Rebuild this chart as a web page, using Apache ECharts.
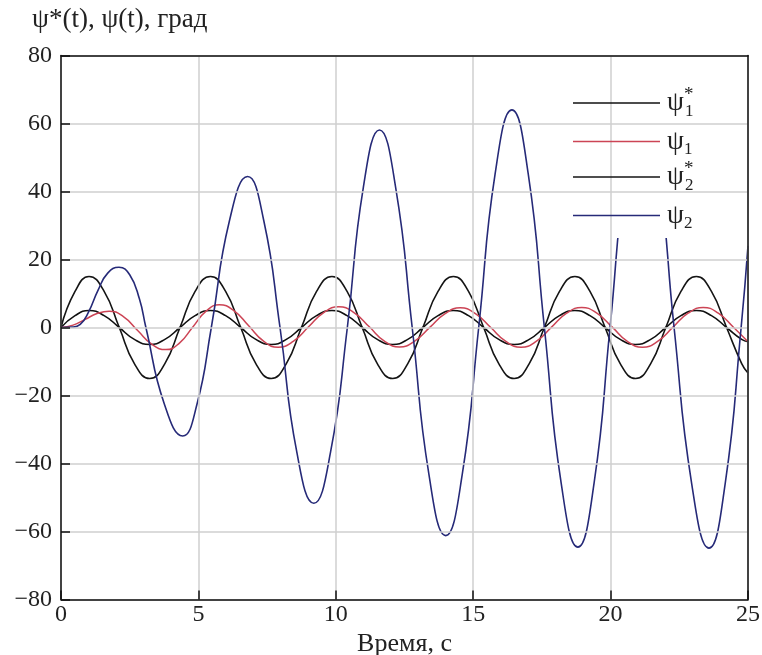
<!DOCTYPE html>
<html>
<head>
<meta charset="utf-8">
<script src="https://cdn.jsdelivr.net/npm/echarts@6/dist/echarts.min.js"></script>
<style>html,body{margin:0;padding:0;background:#fff}#c{width:762px;height:655px}</style>
</head>
<body>
<div id="c"></div>
<script>
// ---- data ----
const xTicks = [0, 5, 10, 15, 20, 25];
const yTicks = [-80, -60, -40, -20, 0, 20, 40, 60, 80];

// psi2* (black, amplitude ~15)
const tPsi2s = [0,0.51,1.02,1.57,2.12,2.67,3.23,3.78,4.33,4.88,5.44,5.99,6.54,7.09,7.65,8.2,8.75,9.3,9.86,10.41,10.96,11.51,12.07,12.62,13.17,13.72,14.28,14.83,15.38,15.93,16.49,17.04,17.59,18.14,18.7,19.25,19.8,20.35,20.91,21.46,22.01,22.56,23.12,23.67,24.22,24.77,25];
const psi2s  = [0,10.6,15,10.6,0,-10.6,-15,-10.6,0,10.6,15,10.6,0,-10.6,-15,-10.6,0,10.6,15,10.6,0,-10.6,-15,-10.6,0,10.6,15,10.6,0,-10.6,-15,-10.6,0,10.6,15,10.6,0,-10.6,-15,-10.6,0,10.6,15,10.6,0,-10.6,-13.4];

// psi1* (black, amplitude ~5)
const tPsi1s = [0,0.51,1.02,1.57,2.12,2.67,3.23,3.78,4.33,4.88,5.44,5.99,6.54,7.09,7.65,8.2,8.75,9.3,9.86,10.41,10.96,11.51,12.07,12.62,13.17,13.72,14.28,14.83,15.38,15.93,16.49,17.04,17.59,18.14,18.7,19.25,19.8,20.35,20.91,21.46,22.01,22.56,23.12,23.67,24.22,24.77,25];
const psi1s  = [0,3.5,5,3.5,0,-3.5,-5,-3.5,0,3.5,5,3.5,0,-3.5,-5,-3.5,0,3.5,5,3.5,0,-3.5,-5,-3.5,0,3.5,5,3.5,0,-3.5,-5,-3.5,0,3.5,5,3.5,0,-3.5,-5,-3.5,0,3.5,5,3.5,0,-3.5,-4.2];

// psi1 (red)
const tPsi1 = [0,0.44,0.88,1.31,1.75,2.27,2.79,3.3,3.82,4.31,4.79,5.28,5.76,6.3,6.83,7.37,7.9,8.45,9.01,9.56,10.11,10.66,11.22,11.77,12.32,12.87,13.43,13.98,14.53,15.08,15.64,16.19,16.74,17.29,17.85,18.4,18.95,19.5,20.06,20.61,21.16,21.71,22.27,22.82,23.37,23.92,24.48,25];
const psi1  = [0,0.7,2.4,4.1,4.8,3.2,-0.9,-4.9,-6.5,-4.6,0.1,4.8,6.7,4.9,0.5,-4.0,-5.8,-4.1,0.2,4.4,6.1,4.4,0.2,-4.0,-5.7,-4.0,0.1,4.1,5.8,4.1,0,-4.1,-5.8,-4.1,0.1,4.2,5.9,4.2,0.1,-4.1,-5.8,-4.1,0.1,4.2,5.9,4.2,0,-4.2];

// psi2 (navy)
const tPsi2 = [0,0.4,0.7,1.0,1.35,1.7,2.11,2.5,2.85,3.09,3.76,4.43,4.95,5.47,6.13,6.79,7.38,7.97,8.58,9.2,9.81,10.42,11.0,11.59,12.18,12.78,13.39,14.0,14.6,15.2,15.8,16.41,17.0,17.59,18.2,18.81,19.4,19.98,20.56,21.15,21.73,22.31,22.95,23.58,24.17,24.75,25];
const psi2  = [0,0.1,0.9,4.5,11,16,17.7,15.5,8.5,0,-22.5,-31.9,-22.5,0,31.4,44.4,31.4,0,-36.6,-51.7,-36.6,0,41.1,58.1,41.1,0,-43.3,-61.2,-43.3,0,45.3,64,45.3,0,-45.7,-64.6,-45.7,0,46.3,65.5,46.3,0,-45.9,-64.9,-45.9,0,24];

const seriesNames = ['ψ1*', 'ψ1', 'ψ2*', 'ψ2'];
const legendLabels = {
  'ψ1*': '{p|ψ}{sup|*}{sub|1}',
  'ψ1':  '{p|ψ}{sub|1}',
  'ψ2*': '{p|ψ}{sup|*}{sub|2}',
  'ψ2':  '{p|ψ}{sub|2}'
};
// --------------------------------------------

const FONT = 'Liberation Serif';
const zip = (t, v) => t.map((x, i) => [x, v[i]]);

const rich = {
  p:   { fontFamily: FONT, fontSize: 27, color: '#222', lineHeight: 34, verticalAlign: 'middle' },
  sub: { fontFamily: FONT, fontSize: 17, color: '#222', lineHeight: 17, verticalAlign: 'bottom' },
  sup: { fontFamily: FONT, fontSize: 19, color: '#222', lineHeight: 19, verticalAlign: 'top', width: 1 }
};

function mkLegend(name, top) {
  return {
    data: [name], left: 573, top: top, orient: 'vertical',
    icon: 'rect', itemWidth: 87, itemHeight: 1.5, itemGap: 0, padding: 0,
    selectedMode: false, z: 6,
    formatter: n => legendLabels[n],
    textStyle: { rich: rich, padding: [0, 0, 0, 2] }
  };
}

const chart = echarts.init(document.getElementById('c'), null, { renderer: 'canvas' });

const lineCommon = { type: 'line', showSymbol: false, smooth: true, z: 2, clip: true };
const frameLine = { show: true, onZero: false, lineStyle: { color: '#111', width: 1.5 } };

chart.setOption({
  animation: false,
  backgroundColor: '#fff',
  title: {
    text: 'ψ*(t), ψ(t), град', left: 27, top: 1,
    textStyle: { fontFamily: FONT, fontSize: 27, fontWeight: 'normal', color: '#222' }
  },
  grid: { left: 61, right: 14, top: 55.5, bottom: 55.5, containLabel: false, outerBoundsMode: 'none' },
  xAxis: [{
    type: 'value', min: 0, max: 25, interval: 5, z: 4, position: 'bottom',
    name: 'Время, с', nameLocation: 'middle', nameGap: 26,
    nameTextStyle: { fontFamily: FONT, fontSize: 26, color: '#222' },
    axisLine: frameLine,
    axisTick: { show: true, inside: true, length: 9, lineStyle: { color: '#111', width: 1.5 } },
    axisLabel: { fontFamily: FONT, fontSize: 24, color: '#222', margin: 3,
      formatter: v => xTicks.includes(v) ? String(v) : '' },
    splitLine: { show: true, lineStyle: { color: '#cfcfcf', width: 1.5 } }
  }, {
    type: 'value', min: 0, max: 25, interval: 5, z: 5, position: 'top',
    axisLine: frameLine, axisTick: { show: false }, axisLabel: { show: false }, splitLine: { show: false }
  }],
  yAxis: [{
    type: 'value', min: -80, max: 80, interval: 20, z: 4, position: 'left',
    axisLine: frameLine,
    axisTick: { show: true, inside: true, length: 9, lineStyle: { color: '#111', width: 1.5 } },
    axisLabel: { fontFamily: FONT, fontSize: 24, color: '#222', margin: 9,
      formatter: v => yTicks.includes(v) ? (v < 0 ? '\u2212' + Math.abs(v) : String(v)) : '' },
    splitLine: { show: true, lineStyle: { color: '#cfcfcf', width: 1.5 } }
  }, {
    type: 'value', min: -80, max: 80, interval: 20, z: 5, position: 'right',
    axisLine: frameLine, axisTick: { show: false }, axisLabel: { show: false }, splitLine: { show: false }
  }],
  graphic: [{
    type: 'rect', z: 3, silent: true,
    shape: { x: 566, y: 57, width: 181, height: 181 },
    style: { fill: '#fff' }
  }],
  legend: [
    mkLegend(seriesNames[0], 86),
    mkLegend(seriesNames[1], 128),
    mkLegend(seriesNames[2], 160),
    mkLegend(seriesNames[3], 202)
  ],
  series: [
    Object.assign({}, lineCommon, { name: 'ψ2*', data: zip(tPsi2s, psi2s), color: '#151515', lineStyle: { color: '#151515', width: 1.6 } }),
    Object.assign({}, lineCommon, { name: 'ψ1*', data: zip(tPsi1s, psi1s), color: '#101010', lineStyle: { color: '#101010', width: 1.6 } }),
    Object.assign({}, lineCommon, { name: 'ψ1', data: zip(tPsi1, psi1), color: '#cc4455', lineStyle: { color: '#cc4455', width: 1.5 } }),
    Object.assign({}, lineCommon, { name: 'ψ2', data: zip(tPsi2, psi2), color: '#262a78', lineStyle: { color: '#262a78', width: 1.6 } })
  ]
});
</script>
</body>
</html>
